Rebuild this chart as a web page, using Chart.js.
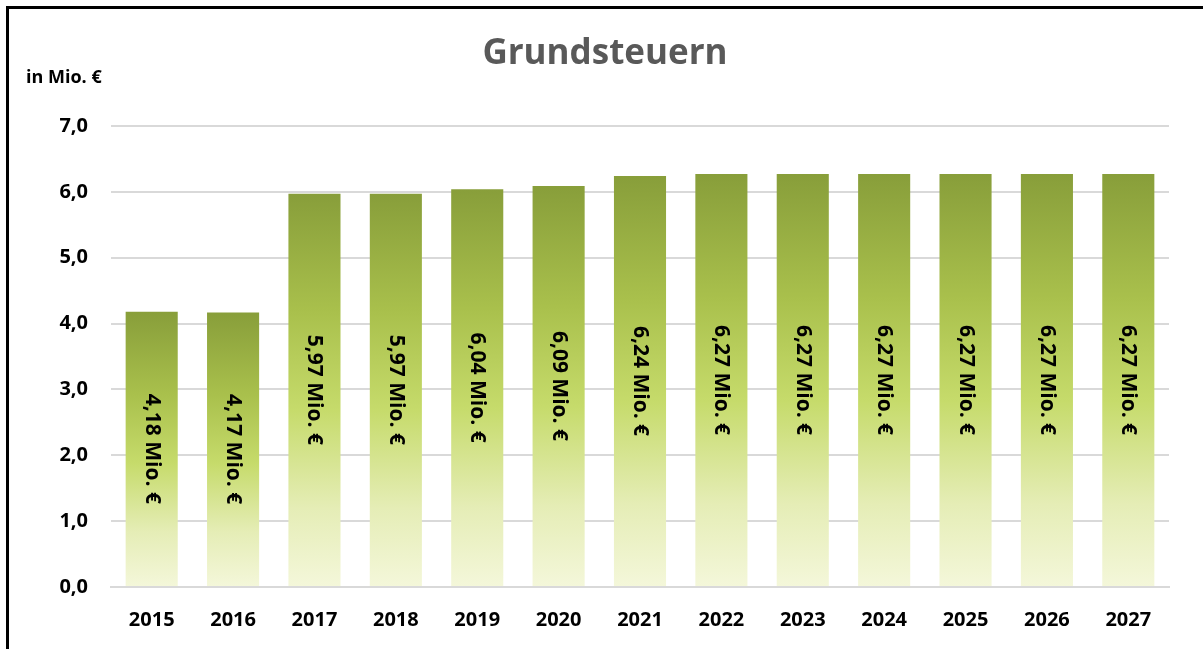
<!DOCTYPE html>
<html>
<head>
<meta charset="utf-8">
<script src="https://cdn.jsdelivr.net/npm/chart.js@4"></script>
<style>
  html, body { margin: 0; padding: 0; background: #fff; }
  #wrap { position: absolute; left: 0; top: 0; width: 1203px; height: 649px; }
  #frame { position: absolute; left: 6px; top: 6px; width: 1197px; height: 643px;
           border-top: 3px solid #000; border-left: 3px solid #000; box-sizing: border-box; }
  canvas { position: absolute; left: 0; top: 0; }
</style>
</head>
<body>
<div id="wrap">
  <div id="frame"></div>
  <canvas id="myChart" width="1203" height="649"></canvas>
</div>
<script>
var years = ["2015", "2016", "2017", "2018", "2019", "2020", "2021", "2022", "2023", "2024", "2025", "2026", "2027"];
var grundsteuern = [4.18, 4.17, 5.97, 5.97, 6.04, 6.09, 6.24, 6.27, 6.27, 6.27, 6.27, 6.27, 6.27];
var chartTitle = "Grundsteuern";
var unitLabel = "in Mio. €";

var fontFam = "'Open Sans', sans-serif";

function fmt(v, d) {
    return v.toFixed(d).replace(".", ",");
}

// gradient per bar, from top of the bar down to zero
function barGradient(context) {
    var chart = context.chart;
    if (!chart.chartArea || context.raw === undefined) return "#b5cc55";
    var y = chart.scales.y;
    var top = y.getPixelForValue(context.raw);
    var bottom = y.getPixelForValue(0);
    var g = chart.ctx.createLinearGradient(0, top, 0, bottom);
    g.addColorStop(0, "#889e3a");
    g.addColorStop(0.3, "#a9c04c");
    g.addColorStop(0.55, "#c6db6b");
    g.addColorStop(0.8, "#e5edb6");
    g.addColorStop(1, "#f4f7da");
    return g;
}

var textPlugin = {
    id: "textPlugin",
    afterDraw: function(chart) {
        var ctx = chart.ctx;
        ctx.save();
        // title
        ctx.fillStyle = "#595959";
        ctx.font = "bold 35px " + fontFam;
        ctx.textAlign = "center";
        ctx.textBaseline = "middle";
        ctx.fillText(chartTitle, 605, 54);
        // unit
        ctx.fillStyle = "#000";
        ctx.font = "bold 18px " + fontFam;
        ctx.textAlign = "left";
        ctx.fillText(unitLabel, 26, 78);
        // value labels, rotated
        var meta = chart.getDatasetMeta(0);
        ctx.font = "bold 21px " + fontFam;
        ctx.textAlign = "center";
        meta.data.forEach(function(bar, i) {
            var cy = (bar.y + bar.base) / 2;
            ctx.save();
            ctx.translate(bar.x, cy);
            ctx.rotate(Math.PI / 2);
            ctx.fillText(fmt(grundsteuern[i], 2) + " Mio. €", 0, 0);
            ctx.restore();
        });
        ctx.restore();
    }
};

var ctx = document.getElementById("myChart");

var chartdata = {
    labels: years,
    datasets: [{
        label: chartTitle,
        data: grundsteuern,
        backgroundColor: barGradient,
        borderWidth: 0,
        categoryPercentage: 1,
        barPercentage: 0.64
    }]
};

var BarGraph = new Chart(ctx, {
    type: "bar",
    data: chartdata,
    plugins: [textPlugin],
    options: {
        responsive: false,
        animation: false,
        layout: { padding: { left: 0, right: 34, top: 126, bottom: 0 } },
        plugins: {
            legend: { display: false },
            title: { display: false },
            tooltip: { enabled: false }
        },
        scales: {
            x: {
                grid: { display: false, drawTicks: false },
                border: { display: true, color: "#d9d9d9", width: 2 },
                ticks: {
                    color: "#000",
                    padding: 21,
                    font: { family: fontFam, size: 20, weight: "bold" }
                },
                afterFit: function(scale) { scale.height = 62; }
            },
            y: {
                min: 0,
                max: 7,
                grid: { color: "#d9d9d9", lineWidth: 2, drawTicks: false },
                border: { display: false },
                ticks: {
                    stepSize: 1,
                    color: "#000",
                    padding: 23,
                    font: { family: fontFam, size: 20, weight: "bold" },
                    callback: function(v) { return fmt(v, 1); }
                },
                afterFit: function(scale) { scale.width = 111; }
            }
        }
    }
});
</script>
</body>
</html>
